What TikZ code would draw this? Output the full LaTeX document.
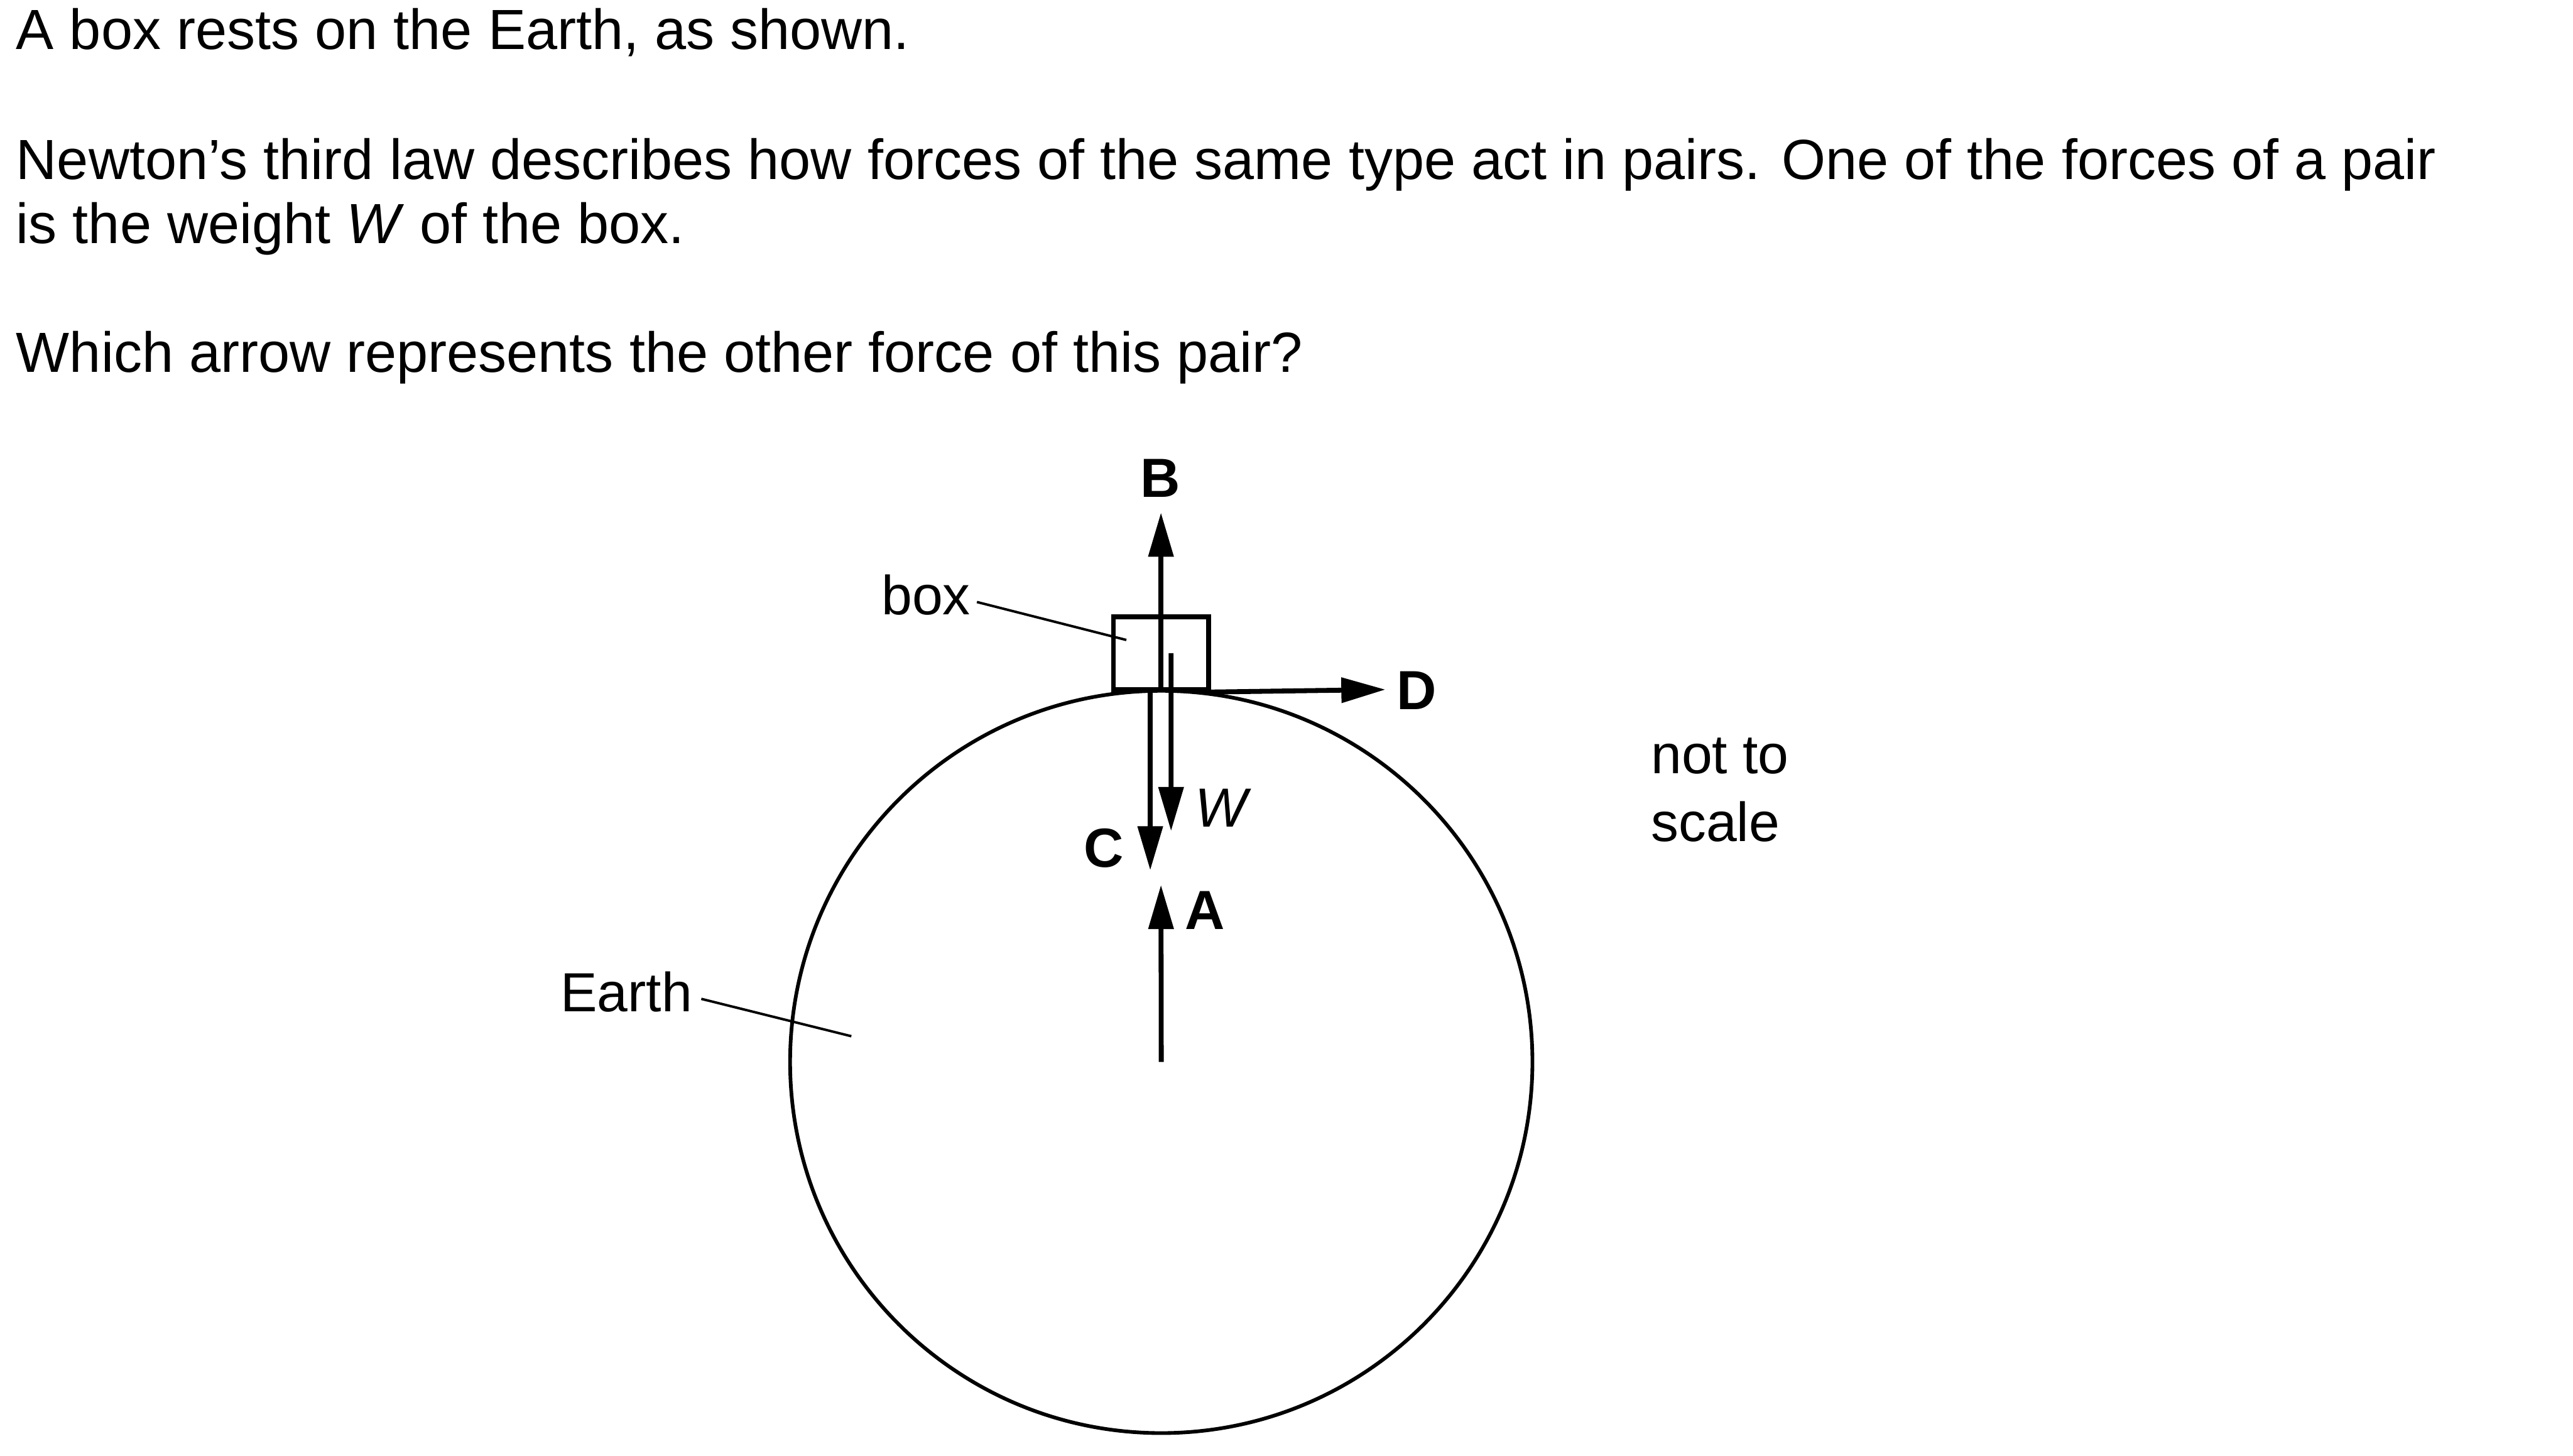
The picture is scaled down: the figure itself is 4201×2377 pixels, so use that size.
\documentclass[tikz,border=0pt]{standalone}
\usepackage{fontspec}
\setmainfont{Liberation Sans}
\usetikzlibrary{arrows.meta}

\begin{document}
\begin{tikzpicture}[
    x=0.125pt, y=-0.125pt,
    font=\fontsize{11.25}{13}\selectfont,
    txt/.style={anchor=base west, inner sep=0pt, align=left},
    para/.style={txt, font=\fontsize{11.55}{13}\selectfont},
    lbl/.style={inner sep=0pt, font=\fontsize{11.25}{13}\selectfont\bfseries},
    force/.style={-{Triangle[length=9pt, width=5pt]}, line width=1pt},
    leader/.style={line width=0.5pt},
  ]
  \useasboundingbox (0,0) rectangle (4201,2377);
  \node[para] (intro) at (25,81) {A box rests on the Earth, as shown.};
  \node[para] (law) at (25,397) {Newton’s third law describes how forces of the same type act in pairs. One of the forces of a pair\\is the weight \textit{W} of the box.};
  \node[para] (ask) at (25,608) {Which arrow represents the other force of this pair?};
  \node[draw, circle, line width=0.75pt, minimum size=151.5pt, inner sep=0pt] (earth) at (1896,1734) {};
  \node[draw, line width=1pt, minimum width=19.375pt, minimum height=14.875pt, inner sep=0pt] (box) at (1895.5,1066.5) {};
  \coordinate (tipB) at (1895.5,837);
  \coordinate (tipD) at (2262,1126);
  \coordinate (tipW) at (1912,1357);
  \coordinate (tipC) at (1878,1421);
  \coordinate (tipA) at (1895.5,1445);
  \coordinate (boxend) at (1839,1045);
  \coordinate (earthend) at (1390,1692);
  \draw[force] (box.south) -- (tipB);
  \draw[force] (box.south east) -- (tipD);
  \draw[force] ([xshift=2.06pt]box.center) -- (tipW);
  \draw[force] ([xshift=-2.19pt]box.south) -- (tipC);
  \draw[force] (earth.center) -- (tipA);
  \node[lbl, anchor=base] (labB) at (1895,812) {B};
  \node[lbl, anchor=base west] (labD) at (2279,1158) {D};
  \node[lbl, anchor=base east] (labC) at (1836,1416) {C};
  \node[lbl, anchor=base west] (labA) at (1933,1517) {A};
  \node[txt] (labW) at (1950,1350) {\itshape W};
  \node[inner sep=0pt, anchor=base east] (boxlbl) at (1586,1004) {box};
  \node[inner sep=0pt, anchor=base east] (earthlbl) at (1132,1652) {Earth};
  \draw[leader] ([shift={(9,-21)}]boxlbl.base east) -- (boxend);
  \draw[leader] ([shift={(13,-21)}]earthlbl.base east) -- (earthend);
  \node[txt, font=\fontsize{11.25}{13.875}\selectfont] (scale) at (2694,1374) {not to\\scale};
\end{tikzpicture}
\end{document}
